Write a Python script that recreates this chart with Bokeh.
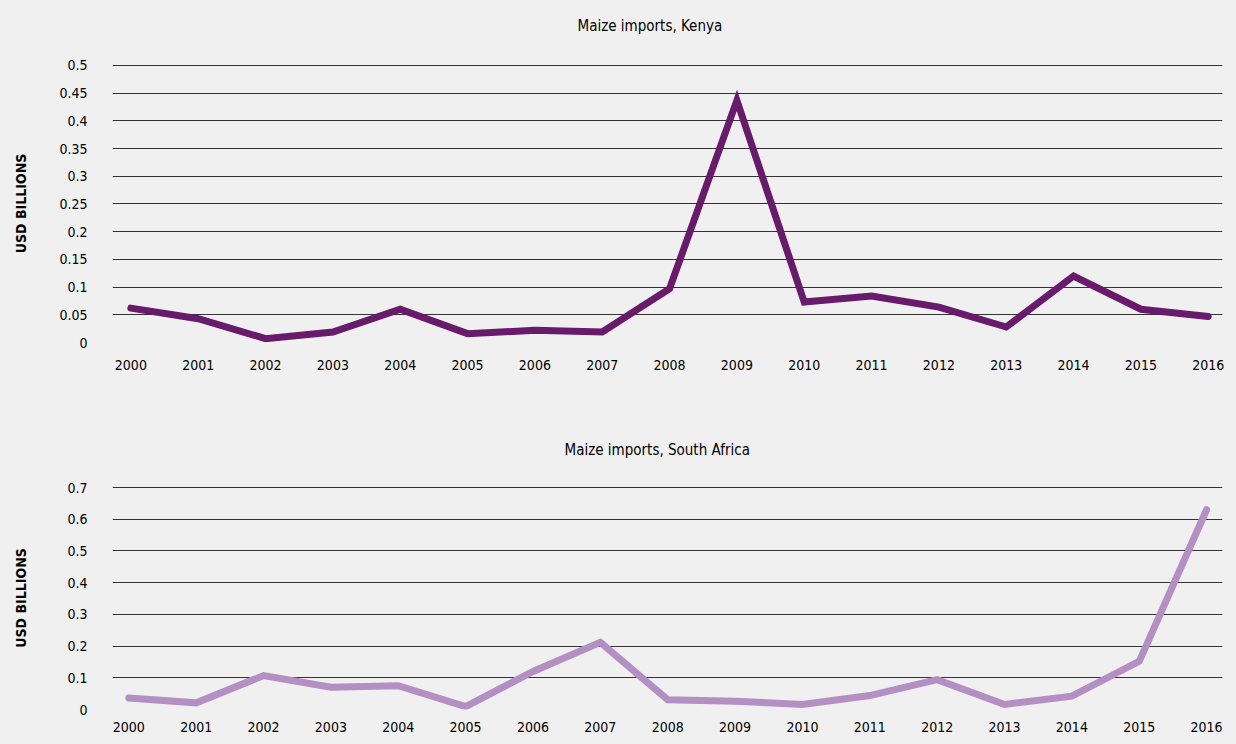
from bokeh.plotting import figure
from bokeh.layouts import column
from bokeh.models import FixedTicker, Range1d, Title
from bokeh.embed import file_html
from bokeh.resources import INLINE

years = list(range(2000, 2017))
year_labels = [str(y) for y in years]

kenya = [0.062, 0.043, 0.007, 0.019, 0.060, 0.016, 0.022, 0.019, 0.097,
         0.437, 0.073, 0.084, 0.064, 0.028, 0.120, 0.060, 0.047]
south_africa = [0.036, 0.021, 0.107, 0.070, 0.075, 0.009, 0.120, 0.212, 0.031,
                0.026, 0.016, 0.044, 0.094, 0.016, 0.042, 0.152, 0.630]

kenya_ticks = [0, 0.05, 0.1, 0.15, 0.2, 0.25, 0.3, 0.35, 0.4, 0.45, 0.5]
kenya_tick_labels = ["0", "0.05", "0.1", "0.15", "0.2", "0.25", "0.3", "0.35", "0.4", "0.45", "0.5"]
sa_ticks = [0, 0.1, 0.2, 0.3, 0.4, 0.5, 0.6, 0.7]
sa_tick_labels = ["0", "0.1", "0.2", "0.3", "0.4", "0.5", "0.6", "0.7"]

FONT = "DejaVu Sans Condensed"
BG = "#f0f0f0"


def build(title, values, ticks, tick_labels, color, height, x_rng, y_top,
          b_top, b_bottom, b_left, b_right, title_offset, gap, x_standoff,
          label_standoff):
    p = figure(width=1236, height=height, output_backend="svg", toolbar_location=None,
               x_range=Range1d(*x_rng), y_range=Range1d(0, y_top),
               min_border_top=b_top, min_border_bottom=b_bottom,
               min_border_left=b_left, min_border_right=b_right,
               background_fill_color=BG, border_fill_color=BG, outline_line_color=None)
    # invisible spacer between the title and the plot frame
    p.add_layout(Title(text=" ", text_font_size="1px", standoff=gap), "above")
    p.title.text = title
    p.title.align = "left"
    p.title.text_font = FONT
    p.title.text_font_size = "15px"
    p.title.text_font_style = "normal"
    p.title.text_color = "#000000"
    p.title.standoff = 10
    p.title.offset = title_offset

    p.line(years, values, line_color=color, line_width=7, line_cap="round", line_join="miter")

    p.xaxis.ticker = FixedTicker(ticks=years)
    p.xaxis.major_label_overrides = {y: l for y, l in zip(years, year_labels)}
    p.yaxis.ticker = FixedTicker(ticks=ticks)
    p.yaxis.major_label_overrides = {t: l for t, l in zip(ticks, tick_labels)}
    for ax in (p.xaxis[0], p.yaxis[0]):
        ax.axis_line_color = None
        ax.major_tick_line_color = None
        ax.minor_tick_line_color = None
        ax.major_label_text_font = FONT
        ax.major_label_text_font_size = "14px"
        ax.major_label_text_color = "#000000"
    p.xaxis.major_label_standoff = x_standoff
    p.yaxis.major_label_standoff = 19
    p.yaxis.axis_label = "USD BILLIONS"
    p.yaxis.axis_label_text_font = FONT
    p.yaxis.axis_label_text_font_size = "14px"
    p.yaxis.axis_label_text_font_style = "bold"
    p.yaxis.axis_label_text_color = "#000000"
    p.yaxis.axis_label_standoff = label_standoff

    p.xgrid.grid_line_color = None
    p.ygrid.grid_line_color = "#333333"
    p.ygrid.grid_line_width = 1
    return p


p1 = build("Maize imports, Kenya", kenya, kenya_ticks, kenya_tick_labels, "#681a6b",
           388, (1999.727, 2016.212), 0.5018, 64, 46, 112, 14, 465, 22, 11, 27)
p2 = build("Maize imports, South Africa", south_africa, sa_ticks, sa_tick_labels, "#b38fc4",
           356, (1999.758, 2016.236), 0.7032, 98, 35, 109, 11, 452, 20, 6, 35)

layout = column(p1, p2, spacing=0, background=BG)
html = file_html(layout, INLINE)
html = html.replace("<body>", '<body style="background:#f0f0f0">', 1)
open("out.html", "w").write(html)
